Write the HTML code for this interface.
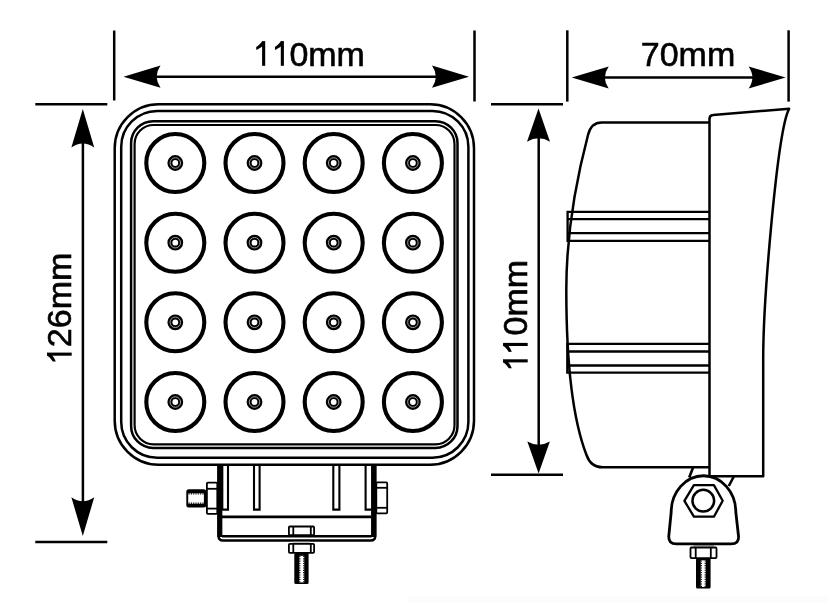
<!DOCTYPE html>
<html><head><meta charset="utf-8">
<style>
html,body{margin:0;padding:0;background:#fff;}
body{width:827px;height:603px;overflow:hidden;}
svg{display:block;will-change:transform;}
text{font-family:"Liberation Sans", sans-serif;fill:#000;stroke:#000;stroke-width:0.6px;}
</style></head><body>
<svg width="827" height="603" viewBox="0 0 827 603">
<defs>
  <path id="arr" d="M0,0 L37,-11.1 Q29.4,0 37,11.1 Z" fill="#000"/>
  <path id="arrv" d="M0,0 L38.6,-11.45 Q30.8,0 38.6,11.45 Z" fill="#000"/>
  <path id="arrs" d="M0,0 L33.3,-11.5 Q26.5,0 33.3,11.5 Z" fill="#000"/>
  <g id="one">
    <rect x="0" y="0" width="3.1" height="24.5" fill="#000"/>
    <path d="M3.1,0 L0,0 C-1.1,2.2 -3.6,4.2 -5.9,5.6 L-5.8,8.6 C-3.6,7.8 -1.5,6.6 0,5.3 Z" fill="#000"/>
  </g>
  <g id="led">
    <circle r="29.0" fill="none" stroke="#000" stroke-width="4.1"/>
    <circle r="5.4" fill="none" stroke="#000" stroke-width="5"/>
    <circle r="5.25" fill="none" stroke="#aaa" stroke-width="0.9"/>
  </g>
</defs>
<rect x="0" y="0" width="827" height="603" fill="#fff"/>

<!-- ===== FRONT VIEW dims ===== -->
<g stroke="#000" stroke-width="2.5" fill="none">
  <!-- top 110mm -->
  <line x1="114.2" y1="30.5" x2="114.2" y2="100.5"/>
  <line x1="474.5" y1="30.5" x2="474.5" y2="101.5"/>
  <line x1="150" y1="76.7" x2="440" y2="76.7"/>
  <!-- left 126mm -->
  <line x1="35.3" y1="104.3" x2="107.3" y2="104.3"/>
  <line x1="35.3" y1="542" x2="107.3" y2="542"/>
  <line x1="82.9" y1="140" x2="82.9" y2="505"/>
</g>
<use href="#arr" transform="translate(123.5,76.7)"/>
<use href="#arr" transform="translate(469,76.7) rotate(180)"/>
<use href="#arrv" transform="translate(82.8,108.9) rotate(90)"/>
<use href="#arrv" transform="translate(82.8,535.9) rotate(-90)"/>
<text x="254.1" y="66.1" font-size="34"><tspan fill="transparent" stroke="transparent">11</tspan>0mm</text>
<use href="#one" x="262.1" y="41.3"/><use href="#one" x="280.8" y="41.3"/>
<text transform="translate(71.1,366.1) rotate(-90)" font-size="34"><tspan fill="transparent" stroke="transparent">1</tspan>26mm</text>
<use href="#one" transform="translate(47.2,355.7) rotate(-90)"/>

<!-- ===== FRONT BOX ===== -->
<g stroke="#000" stroke-width="2.5" fill="none">
  <rect x="114.7" y="104.35" width="359.3" height="360.35" rx="44" ry="44"/>
  <rect x="121.2" y="110.9" width="347.2" height="346.9" rx="36" ry="36"/>
  <rect x="131.1" y="121.2" width="326.4" height="326.7" rx="22" ry="22"/>
  <rect x="134.6" y="125" width="319.9" height="319.3" rx="19" ry="19" stroke-width="2.2"/>
</g>
<g>
  <use href="#led" x="175.3" y="163"/><use href="#led" x="254.5" y="163"/><use href="#led" x="333.7" y="163"/><use href="#led" x="412.9" y="163"/>
  <use href="#led" x="175.3" y="242.7"/><use href="#led" x="254.5" y="242.7"/><use href="#led" x="333.7" y="242.7"/><use href="#led" x="412.9" y="242.7"/>
  <use href="#led" x="175.3" y="322.3"/><use href="#led" x="254.5" y="322.3"/><use href="#led" x="333.7" y="322.3"/><use href="#led" x="412.9" y="322.3"/>
  <use href="#led" x="175.3" y="402"/><use href="#led" x="254.5" y="402"/><use href="#led" x="333.7" y="402"/><use href="#led" x="412.9" y="402"/>
</g>

<!-- ===== FRONT BRACKET ===== -->
<g stroke="#000" fill="none">
  <!-- bottom double -->
  <path d="M222,536.3 L371.5,536.3" stroke-width="2.6"/>
  <path d="M218.6,465 L218.6,536 Q218.6,540.5 223.1,540.5 L370.7,540.5 Q375.2,540.5 375.2,536 L375.2,465" stroke-width="2.5"/>
  <!-- thick verticals -->
  <path d="M219.8,464 L219.8,537" stroke-width="5.1"/>
  <path d="M373.7,464 L373.7,537" stroke-width="5.3"/>
  <!-- slots -->
  <path d="M222.3,465 L222.3,509.6 L228,509.6 L228,465" stroke-width="2.1"/>
  <path d="M254,465 L254,509.6 L259.6,509.6 L259.6,465" stroke-width="2.1"/>
  <path d="M333.3,465 L333.3,509.6 L339.4,509.6 L339.4,465" stroke-width="2.1"/>
  <path d="M365.6,465 L365.6,509.6 L371,509.6" stroke-width="2.1"/>
  <!-- horizontal -->
  <line x1="222" y1="516.9" x2="371" y2="516.9" stroke-width="2.8"/>
  <!-- left nut -->
  <rect x="206.9" y="482.7" width="10.4" height="31.1" rx="1" stroke-width="1.8"/>
  <line x1="206.9" y1="488.8" x2="217.3" y2="488.8" stroke-width="1.8"/>
  <line x1="206.9" y1="508.6" x2="217.3" y2="508.6" stroke-width="1.8"/>
  <!-- right nut -->
  <rect x="376.3" y="482.3" width="10.9" height="31" rx="1" stroke-width="1.8"/>
  <line x1="376.3" y1="487.8" x2="387.2" y2="487.8" stroke-width="1.8"/>
  <line x1="376.3" y1="507.8" x2="387.2" y2="507.8" stroke-width="1.8"/>
  <!-- bottom nuts -->
  <rect x="288.9" y="526.5" width="25.2" height="8.6" rx="1" stroke-width="1.8" fill="#fff"/>
  <line x1="293.3" y1="526.5" x2="293.3" y2="535" stroke-width="1.8"/>
  <line x1="310.8" y1="526.5" x2="310.8" y2="535" stroke-width="1.8"/>
  <rect x="288.9" y="543.8" width="25.2" height="9" rx="1" stroke-width="1.8"/>
  <line x1="293.3" y1="543.8" x2="293.3" y2="552.8" stroke-width="1.8"/>
  <line x1="310.8" y1="543.8" x2="310.8" y2="552.8" stroke-width="1.8"/>
  <line x1="293" y1="541.8" x2="310" y2="541.8" stroke="#777" stroke-width="1.2"/>
</g>
<!-- bolts -->
<g>
  <rect x="186.3" y="489.2" width="20" height="18.3" rx="2.5" fill="#000"/>
  <rect x="188.2" y="493.3" width="15.7" height="10.4" fill="#fff"/>
  <path d="M188.6,493.8 L203.6,493.8 M188.6,503.2 L203.6,503.2" stroke="#000" stroke-width="1.2" stroke-dasharray="1.1 1.2"/>
  <rect x="294.3" y="553" width="14.3" height="31.1" rx="1.5" fill="#000"/>
  <rect x="299.3" y="555.8" width="4.9" height="26.6" fill="#fff"/>
  <path d="M299.8,556 L299.8,582.3 M303.7,556 L303.7,582.3" stroke="#000" stroke-width="1.2" stroke-dasharray="1.1 1.2"/>
</g>

<!-- ===== SIDE VIEW dims ===== -->
<g stroke="#000" stroke-width="2.5" fill="none">
  <line x1="567.3" y1="30.3" x2="567.3" y2="101.6"/>
  <line x1="788.6" y1="30.3" x2="788.6" y2="101.6"/>
  <line x1="600" y1="77.5" x2="760" y2="77.5"/>
  <line x1="491" y1="104.3" x2="563" y2="104.3"/>
  <line x1="491" y1="474.7" x2="563" y2="474.7"/>
  <line x1="538.7" y1="135" x2="538.7" y2="450"/>
</g>
<use href="#arr" transform="translate(571.7,77.5)"/>
<use href="#arr" transform="translate(785.6,77.5) rotate(180)"/>
<use href="#arrs" transform="translate(538.5,108.4) rotate(90)"/>
<use href="#arrs" transform="translate(538.6,473.4) rotate(-90) scale(0.96,0.98)"/>
<text x="640.8" y="66" font-size="34">70mm</text>
<text transform="translate(527.2,370.8) rotate(-90)" font-size="34"><tspan fill="transparent" stroke="transparent">11</tspan>0mm</text>
<use href="#one" transform="translate(503.2,362.4) rotate(-90)"/><use href="#one" transform="translate(503.2,346) rotate(-90)"/>

<!-- ===== SIDE VIEW body ===== -->
<g stroke="#000" stroke-width="2.5" fill="none" stroke-linejoin="round">
  <!-- housing -->
  <path d="M709,122.6 L601.5,122.6 Q591.2,122.6 588,135 C574.6,185.8 566.3,238.5 566.3,290 C566.3,327.6 567.7,406.3 586.5,455 Q590.8,467.3 602.4,467.3 L709,467.3"/>
  <!-- ribs -->
  <path d="M567.6,211.9 L709,211.9 M567.6,219.1 L709,219.1 M567.6,233.1 L709,233.1 M567.6,240.8 L709,240.8 M567.6,210.8 L567.6,241.9" stroke-width="2.3"/>
  <path d="M567.3,343.9 L709,343.9 M567.3,351.5 L709,351.5 M567.3,365.5 L709,365.5 M567.3,372.7 L709,372.7 M567.3,342.8 L567.3,373.8" stroke-width="2.3"/>
  <!-- bezel -->
  <path d="M709.5,476.2 L709.5,119 Q709.5,115.2 713,115 L789.1,108.8 C777.4,129.9 763.2,300.2 763.2,358.8 L763.2,476.2 Z"/>
  <!-- struts -->
  <line x1="689.2" y1="477.5" x2="693" y2="467.7" stroke-width="2.6"/>
  <line x1="728.8" y1="486" x2="733.8" y2="476.5" stroke-width="2.6"/>
  <!-- bracket -->
  <path d="M668.8,536 L671.2,512 A32.3 36.3 0 0 1 735.8,512 L738.5,536 Q739.3,543.9 731,543.9 L676.5,543.9 Q668.2,543.9 668.8,536 Z" fill="#fff" stroke-width="2.8"/>
  <!-- hex nut -->
  <path d="M684.4,500.8 L693.9,485.1 L713.9,485.1 L722.7,500.8 L713.9,516.7 L693.9,516.7 Z" stroke-width="2.3"/>
  <circle cx="703.3" cy="500.7" r="10.85" stroke-width="2.5"/>
  <!-- nut + bolt -->
  <rect x="690.5" y="547.5" width="26" height="10.6" rx="1" stroke-width="1.8"/>
  <line x1="695.7" y1="547.5" x2="695.7" y2="558.1" stroke-width="1.8"/>
  <line x1="710.8" y1="547.5" x2="710.8" y2="558.1" stroke-width="1.8"/>
  <line x1="693.5" y1="546" x2="714" y2="546" stroke="#555" stroke-width="1.2"/>
</g>
<g>
  <rect x="696" y="558" width="14.6" height="30.4" rx="1.5" fill="#000"/>
  <rect x="700.8" y="560.3" width="4.9" height="26.7" fill="#fff"/>
  <path d="M701.3,560.5 L701.3,587 M705.2,560.5 L705.2,587" stroke="#000" stroke-width="1.2" stroke-dasharray="1.1 1.2"/>
</g>
<rect x="408" y="596" width="419" height="7" fill="#fcfcfc"/>
</svg>
</body></html>
